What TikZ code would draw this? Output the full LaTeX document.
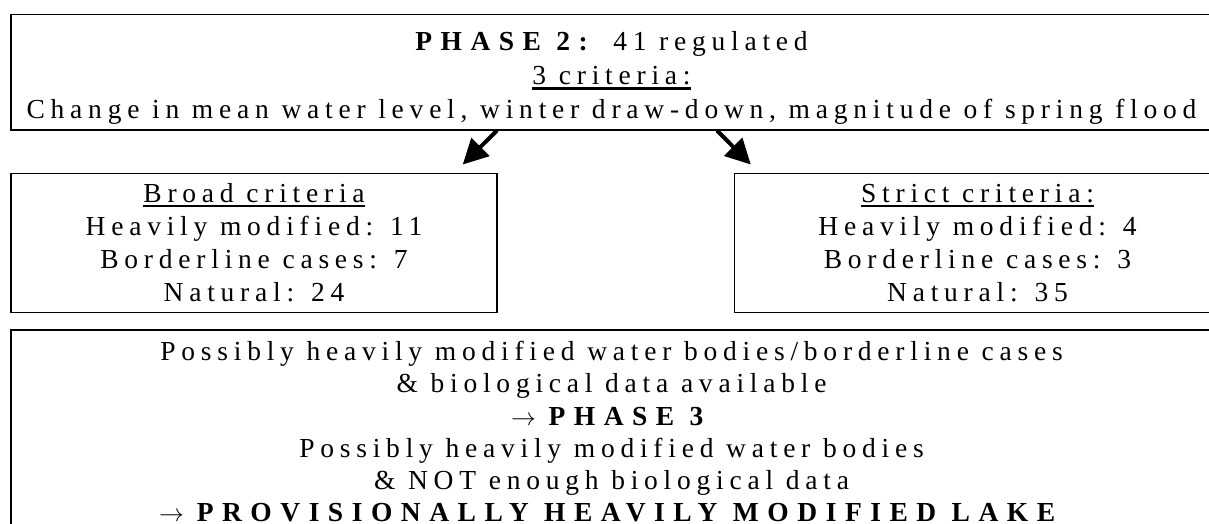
\documentclass[tikz,border=0pt]{standalone}
\usepackage{fontspec}
\setmainfont{Liberation Serif}[LetterSpace=21, BoldFeatures={LetterSpace=31}]
\usetikzlibrary{positioning}
\usetikzlibrary{arrows.meta}

% thick rule under a heading
\newcommand{\critul}[1]{\setbox0\hbox{#1}\rlap{\rule[-5pt]{\wd0}{2.5pt}}\box0}

\begin{document}
\begin{tikzpicture}[x=1pt, y=-1pt,
                      box/.style={rectangle, draw, line width=1.5pt, inner sep=0pt, align=center},
                      bigarrow/.style={-{Triangle[length=25pt, width=25pt]}, line width=4pt},
                  ]
                  \useasboundingbox (0,0) rectangle (1209,524);
                  %Nodes
                  \node[box, minimum width=1201pt, text height=104pt, text depth=11pt,
                        font=\fontsize{27.5}{34}\selectfont, anchor=north] (phase) at (611.5,14)
                        {\textbf{PHASE 2:} 41 regulated\\ \critul{3 criteria:}\\
                         Change in mean water level, winter draw-down, magnitude of spring flood};
                  \node[box, minimum width=486pt, text height=128pt, text depth=11pt,
                        font=\fontsize{27.5}{33}\selectfont] (broad) [below right=42pt and 0pt of phase.south west]
                        {\critul{Broad criteria}\\ Heavily modified: 11\\ Borderline cases: 7\\ Natural: 24};
                  \node[box, minimum width=486pt, text height=128pt, text depth=11pt,
                        font=\fontsize{27.5}{33}\selectfont] (strict) [right=236pt of broad]
                        {\critul{Strict criteria:}\\ Heavily modified: 4\\ Borderline cases: 3\\ Natural: 35};
                  \node[box, minimum width=1201pt, text height=192pt, text depth=22pt,
                        font=\fontsize{27.5}{32.2}\selectfont] (lake) [below right=16pt and 0pt of broad.south west]
                        {Possibly heavily modified water bodies/borderline cases\\
                         \& biological data available\\
                         $\rightarrow$ \textbf{PHASE 3}\\
                         Possibly heavily modified water bodies\\
                         \& NOT enough biological data\\
                         $\rightarrow$ \textbf{PROVISIONALLY HEAVILY MODIFIED LAKE}};

                  %Lines
                  \draw[bigarrow] ([xshift=-114.5pt]phase.south) -- ([xshift=-35pt, yshift=8pt]broad.north east);
                  \draw[bigarrow] ([xshift=105.5pt]phase.south) -- ([xshift=17pt, yshift=8pt]strict.north west);
              \end{tikzpicture}
\end{document}
